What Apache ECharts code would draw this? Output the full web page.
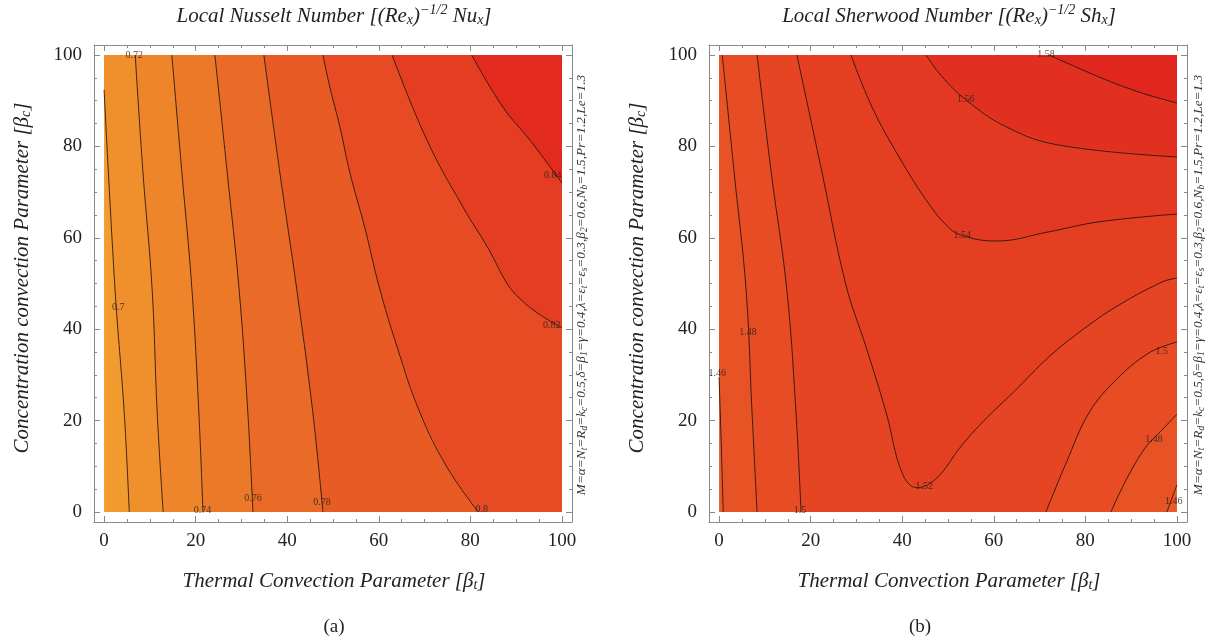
<!DOCTYPE html>
<html><head><meta charset="utf-8">
<script src="https://cdn.jsdelivr.net/npm/echarts@6/dist/echarts.min.js"></script>
<style>html,body{margin:0;padding:0;background:#fff}#c{width:1213px;height:643px}</style>
</head><body><div id="c"></div>
<script>
// ---------------- DATA ----------------
const majorTicks = [0, 20, 40, 60, 80, 100];
const minorTicks = [0,5,10,15,20,25,30,35,40,45,50,55,60,65,70,75,80,85,90,95,100];

// Panel (a): Local Nusselt number contours  [beta_t, beta_c]
const nuLevels = [0.70, 0.72, 0.74, 0.76, 0.78, 0.80, 0.82, 0.84];
const nu070 = [[0,92.4],[2.4,48.6],[4.4,21.7],[5.5,0]];
const nu072 = [[6.8,100],[8.5,74.2],[10.5,48.6],[11.6,21.7],[12.9,0]];
const nu074 = [[14.8,100],[17,74.2],[19.2,48.6],[20.7,21.7],[21.6,0]];
const nu076 = [[24.2,100],[26.9,74.2],[29.5,48.6],[31.4,21.7],[32.5,0]];
const nu078 = [[34.9,100],[38.4,74.2],[42.1,48.6],[45.6,21.7],[47.8,0]];
const nu080 = [[47.8,100],[49.3,93],[51.5,84.3],[53.7,74.2],[57,62],[60,49.6],[64,36.1],[69,21.7],[74.9,9.8],[81.7,0]];
const nu082 = [[62.9,100],[70.5,81.4],[78.4,66.7],[84,57.5],[88,50],[91,46.5],[95,43.3],[100,40.3]];
const nu084 = [[80.3,100],[87.1,88.6],[93,81.4],[100,72]];
const nuLabels = [[6.6,100,'0.72'],[3.1,44.8,'0.7'],[21.5,0.4,'0.74'],[32.5,3,'0.76'],[47.6,2.2,'0.78'],[82.5,0.6,'0.8'],[97.8,40.9,'0.82'],[98,73.7,'0.84']];

// Panel (b): Local Sherwood number contours
const shLevels = [1.46, 1.48, 1.50, 1.52, 1.54, 1.56, 1.58];
const sh146a = [[0,29.5],[0.5,14],[0.9,0]];
const sh146b = [[97.8,0],[100,5.9]];
const sh148a = [[0.7,100],[3.3,74.2],[5.9,48.6],[7.2,21.7],[8.3,0]];
const sh148b = [[85.6,0],[88.9,7],[93.2,14.2],[96.7,17.9],[100,21.4]];
const sh150a = [[8.3,100],[11.4,74.2],[14.8,48.6],[16.8,21.7],[17.9,0]];
const sh150b = [[71.4,0],[75.8,10.7],[80.8,21.7],[86.7,28.9],[93.9,34.8],[100,37.2]];
const sh152 = [[17,100],[22.5,74.2],[27.7,49.7],[32.1,36.1],[36.5,21.7],[40,8.5],[43.2,5.3],[46,6.2],[49,9],[52.4,13.8],[57.4,19.5],[64.8,26.7],[72,33.9],[79.3,39.8],[86.7,44.9],[96.7,50.3],[100,51.2]];
const sh154 = [[28.8,100],[33.4,88.6],[39.3,77.7],[45.2,68.3],[49.6,62.8],[52.8,60.6],[60.5,59.3],[72,61.3],[83,63.5],[100,65.2]];
const sh156 = [[45.2,100],[48.5,95.5],[53.9,90.2],[62.9,84.2],[74.2,80.3],[100,77.7]];
const sh158 = [[72.1,100],[83,95.2],[91.7,91.9],[100,89.5]];
const shLabels = [[-0.4,30.4,'1.46'],[6.3,39.2,'1.48'],[17.7,0.3,'1.5'],[44.8,5.7,'1.52'],[53.1,60.6,'1.54'],[53.9,90.2,'1.56'],[71.4,100.2,'1.58'],[96.7,35.2,'1.5'],[95,15.8,'1.48'],[99.3,2.4,'1.46']];

// ---------------- STYLE ----------------
const nuColors = ['#F29B2E','#F0902C','#EE852A','#EC7928','#EA6B27','#E85B25','#E64B23','#E43D21','#E22A1F'];
const shColors = ['#E95A28','#E85326','#E74C25','#E64523','#E53F22','#E33822','#E23020','#E1251F'];
const SERIF = "'Liberation Serif', 'DejaVu Serif', serif";
const FRAME = '#8a8a8a';
const AMIN = -2.2, AMAX = 102.2;

// ---------------- REGIONS ----------------
function sPos(p) {
  const x = p[0], y = p[1], e = 0.01;
  if (y <= e) return x;
  if (x >= 100 - e) return 100 + y;
  if (y >= 100 - e) return 200 + (100 - x);
  return 300 + (100 - y);
}
const corners = [[0,[0,0]],[100,[100,0]],[200,[100,100]],[300,[0,100]]];
function region(pieces) {
  const pts = []; const used = new Set(); let cur = 0;
  for (let k = 0; k < pieces.length + 1; k++) {
    const pc = pieces[cur]; used.add(cur); pts.push(...pc);
    const se = sPos(pc[pc.length - 1]);
    let best = -1, bd = Infinity;
    pieces.forEach((q, i) => {
      if (i !== 0 && used.has(i)) return;
      const d = (sPos(q[0]) - se + 400) % 400;
      if (d < bd) { bd = d; best = i; }
    });
    const cs = [];
    corners.forEach(c => { const dc = (c[0] - se + 400) % 400; if (dc > 0 && dc < bd) cs.push([dc, c[1]]); });
    cs.sort((a, b) => a[0] - b[0]);
    cs.forEach(c => pts.push(c[1]));
    if (best === 0) break;
    cur = best;
  }
  return pts;
}
const box = [[0,0],[100,0],[100,100],[0,100]];
const nuPieces = [[nu070],[nu072],[nu074],[nu076],[nu078],[nu080],[nu082],[nu084]];
const shPieces = [[sh146a, sh146b],[sh148a, sh148b],[sh150a, sh150b],[sh152],[sh154],[sh156],[sh158]];
const nuPolys = [box].concat(nuPieces.map(region));
const shPolys = [box].concat(shPieces.map(region));

// ---------------- AXES ----------------
function axisSet(gi, dim) {
  const isX = dim === 'x';
  const p1 = isX ? 'bottom' : 'left', p2 = isX ? 'top' : 'right';
  const base = { gridIndex: gi, type: 'value', min: AMIN, max: AMAX, splitLine: { show: false } };
  const tick = (vals, len) => ({ show: true, inside: true, length: len, customValues: vals, lineStyle: { color: FRAME, width: 1 } });
  return [
    Object.assign({}, base, { position: p1, axisLine: { show: true, onZero: false, lineStyle: { color: FRAME, width: 1 } },
      axisTick: tick(majorTicks, 6),
      axisLabel: { show: true, customValues: majorTicks, fontSize: 19, fontFamily: SERIF, color: '#222', margin: isX ? 10 : 12 } }),
    Object.assign({}, base, { position: p1, axisLine: { show: false, onZero: false }, axisTick: tick(minorTicks, 3), axisLabel: { show: false } }),
    Object.assign({}, base, { position: p2, axisLine: { show: true, onZero: false, lineStyle: { color: FRAME, width: 1 } }, axisTick: tick(majorTicks, 6), axisLabel: { show: false } }),
    Object.assign({}, base, { position: p2, axisLine: { show: false, onZero: false }, axisTick: tick(minorTicks, 3), axisLabel: { show: false } })
  ];
}
const xAxes = axisSet(0, 'x').concat(axisSet(1, 'x'));
const yAxes = axisSet(0, 'y').concat(axisSet(1, 'y'));

// ---------------- SERIES ----------------
function fillSeries(axisIdx, polys, colors) {
  return {
    type: 'custom', xAxisIndex: axisIdx, yAxisIndex: axisIdx, silent: true, z: 1, clip: true,
    data: polys.map((p, i) => [i, 0]),
    renderItem: function (params, api) {
      const i = api.value(0);
      return { type: 'polygon', shape: { points: polys[i].map(pt => api.coord(pt)) }, style: { fill: colors[i] } };
    }
  };
}
function lineSeries(axisIdx, pieceList) {
  const out = [];
  pieceList.forEach(ps => ps.forEach(pc => out.push({
    type: 'line', xAxisIndex: axisIdx, yAxisIndex: axisIdx, data: pc, symbol: 'none', smooth: 0.4, silent: true, z: 3,
    lineStyle: { color: 'rgba(30,20,15,0.85)', width: 1 }
  })));
  return out;
}
function labelSeries(axisIdx, labels) {
  return {
    type: 'scatter', xAxisIndex: axisIdx, yAxisIndex: axisIdx, data: labels, symbolSize: 1, silent: true, z: 4,
    itemStyle: { color: 'rgba(0,0,0,0)' },
    label: { show: true, position: 'inside', formatter: p => p.value[2], fontSize: 10, fontFamily: SERIF, color: '#222' }
  };
}
const series = [
  fillSeries(0, nuPolys, nuColors), ...lineSeries(0, nuPieces), labelSeries(0, nuLabels),
  fillSeries(4, shPolys, shColors), ...lineSeries(4, shPieces), labelSeries(4, shLabels)
];

// ---------------- TEXT ----------------
const RICH = {
  t: { fontFamily: SERIF, fontStyle: 'italic', fontSize: 21, fill: '#222', lineHeight: 32, verticalAlign: 'middle' },
  s: { fontFamily: SERIF, fontStyle: 'italic', fontSize: 14, fill: '#222', lineHeight: 32, verticalAlign: 'bottom', padding: [0,0,5,0] },
  p: { fontFamily: SERIF, fontStyle: 'italic', fontSize: 14, fill: '#222', lineHeight: 32, verticalAlign: 'top', padding: [3,0,0,0] },
  r: { fontFamily: SERIF, fontSize: 19, fill: '#222', lineHeight: 30, verticalAlign: 'middle' },
  q: { fontFamily: SERIF, fontStyle: 'italic', fontSize: 13.3, fill: '#333', lineHeight: 20, verticalAlign: 'middle' },
  qs: { fontFamily: SERIF, fontStyle: 'italic', fontSize: 9.5, fill: '#333', lineHeight: 20, verticalAlign: 'bottom', padding: [0,0,3,0] }
};
function txt(x, y, text, rot) {
  return { type: 'text', x: x, y: y, rotation: rot || 0, silent: true,
    style: { text: text, rich: RICH, align: 'center', verticalAlign: 'middle', textAlign: 'center', textVerticalAlign: 'middle' } };
}
const paramText = '{q|M=α=N}{qs|t}{q|=R}{qs|d}{q|=k}{qs|c}{q|=0.5,δ=β}{qs|1}{q|=γ=0.4,λ=ε}{qs|t}{q|=ε}{qs|s}{q|=0.3,β}{qs|2}{q|=0.6,N}{qs|b}{q|=1.5,Pr=1.2,Le=1.3}';
const graphics = [
  txt(334, 16, '{t|Local Nusselt Number [(Re}{s|x}{t|)}{p|−1/2}{t| Nu}{s|x}{t|]}'),
  txt(949, 16, '{t|Local Sherwood Number [(Re}{s|x}{t|)}{p|−1/2}{t| Sh}{s|x}{t|]}'),
  txt(334, 581, '{t|Thermal Convection Parameter [β}{s|t}{t|]}'),
  txt(949, 581, '{t|Thermal Convection Parameter [β}{s|t}{t|]}'),
  txt(22, 278, '{t|Concentration convection Parameter [β}{s|c}{t|]}', Math.PI / 2),
  txt(637, 278, '{t|Concentration convection Parameter [β}{s|c}{t|]}', Math.PI / 2),
  txt(582, 285, paramText, Math.PI / 2),
  txt(1199, 285, paramText, Math.PI / 2),
  txt(334, 627, '{r|(a)}'),
  txt(920, 627, '{r|(b)}')
];

const chart = echarts.init(document.getElementById('c'), null, { renderer: 'canvas', width: 1213, height: 643 });
chart.setOption({
  animation: false,
  backgroundColor: '#ffffff',
  grid: [
    { left: 94, top: 45, width: 478, height: 477, containLabel: false },
    { left: 709, top: 45, width: 478, height: 477, containLabel: false }
  ],
  xAxis: xAxes,
  yAxis: yAxes,
  series: series,
  graphic: graphics
});
</script>
</body></html>
